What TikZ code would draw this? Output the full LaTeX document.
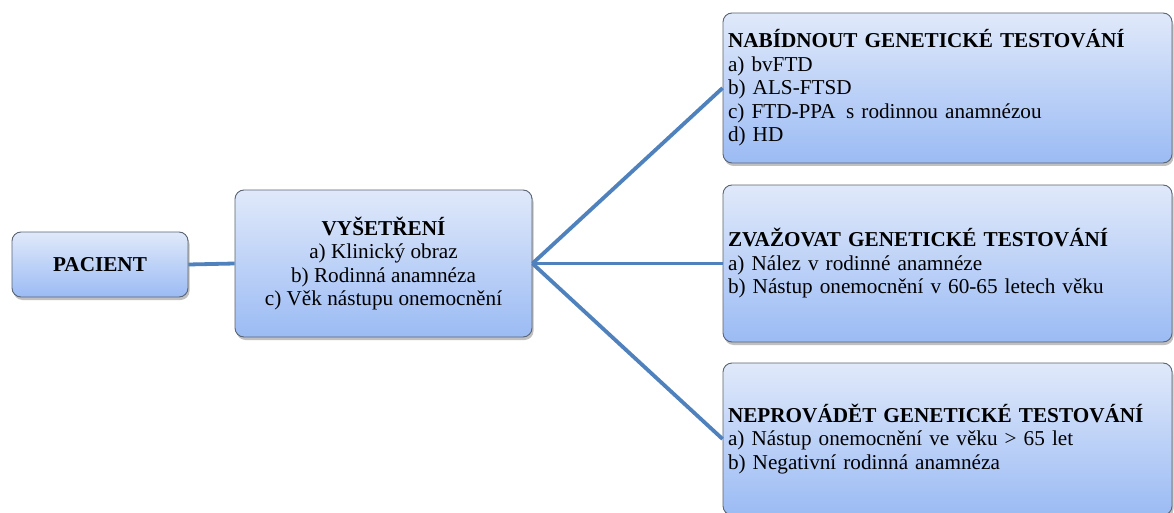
\documentclass[tikz,border=0pt]{standalone}
\usepackage{fontspec}
\setmainfont{LiberationSerif}[Extension=.ttf, UprightFont=*-Regular, BoldFont=*-Bold, ItalicFont=*-Italic, BoldItalicFont=*-BoldItalic]
\usetikzlibrary{shadows}
\definecolor{boxtop}{RGB}{224,233,250}
\definecolor{boxbot}{RGB}{155,187,244}
\definecolor{boxedge}{RGB}{90,100,115}
\definecolor{link}{RGB}{79,129,189}
\tikzset{
  card/.style={draw=boxedge, line width=0.9pt, rounded corners=9pt,
    top color=boxtop, bottom color=boxbot,
    drop shadow={shadow xshift=1.5pt, shadow yshift=-3pt, opacity=0.35, fill=black!70},
    font=\rmfamily\fontsize{21.2pt}{23.5pt}\selectfont, inner sep=0pt},
  leftcard/.style={card, align=left, text width=#1, inner xsep=5pt},
  link/.style={draw=link, line width=3.8pt}
}
\begin{document}
\begin{tikzpicture}[x=1pt,y=-1pt]
\useasboundingbox[fill=white] (0,0) rectangle (1174,513);
% source and examination boxes
\node[card, minimum width=176pt, minimum height=65pt] (pac) at (100,264.5) {\textbf{PACIENT}};
\node[card, minimum width=297pt, minimum height=147pt, align=center] (vys) at (383.5,263.5)
  {\textbf{VYŠETŘENÍ}\\a) Klinický obraz\\b) Rodinná anamnéza\\c) Věk nástupu onemocnění};
% connectors
\draw[link] (pac.east) -- (vys.west);
% decision boxes
\node[leftcard=439pt, minimum height=150pt] (offer) at (947.5,88)
  {\textbf{NABÍDNOUT GENETICKÉ TESTOVÁNÍ}\\a) bvFTD\\b) ALS-FTSD\\c) FTD-PPA\, s rodinnou anamnézou\\d) HD};
\node[leftcard=439pt, minimum height=157pt] (consider) at (947.5,263.5)
  {\textbf{ZVAŽOVAT GENETICKÉ TESTOVÁNÍ}\\a) Nález v rodinné anamnéze\\b) Nástup onemocnění v 60-65 letech věku};
\node[leftcard=439pt, minimum height=152pt] (skip) at (947.5,439)
  {\textbf{NEPROVÁDĚT GENETICKÉ TESTOVÁNÍ}\\a) Nástup onemocnění ve věku > 65 let\\b) Negativní rodinná anamnéza};
\draw[link] (vys.east) -- (offer.west);
\draw[link] (vys.east) -- (consider.west);
\draw[link] (vys.east) -- (skip.west);
\end{tikzpicture}
\end{document}
